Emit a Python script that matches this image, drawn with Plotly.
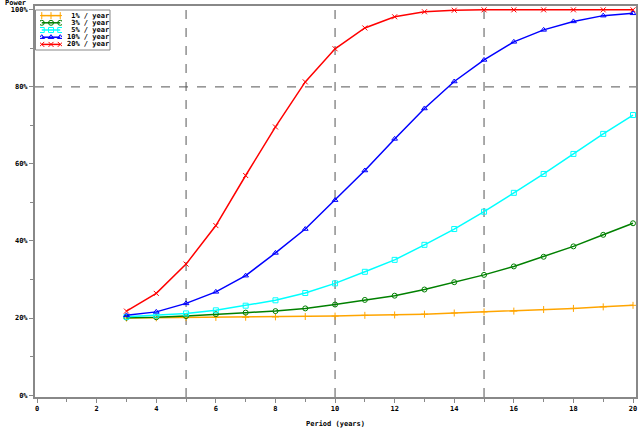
import plotly.graph_objects as go

period = list(range(3, 21))
p1 = [20.0, 20.05, 20.1, 20.15, 20.2, 20.3, 20.4, 20.5, 20.7, 20.8, 21.0, 21.3, 21.6, 21.8, 22.2, 22.5, 22.9, 23.3]
p3 = [20.1, 20.2, 20.5, 21.0, 21.4, 21.8, 22.5, 23.5, 24.7, 25.8, 27.4, 29.3, 31.2, 33.4, 35.9, 38.6, 41.6, 44.6]
p5 = [20.3, 20.7, 21.2, 22.0, 23.2, 24.6, 26.5, 29.0, 32.0, 35.1, 39.0, 43.1, 47.6, 52.5, 57.4, 62.6, 67.8, 72.7]
p10 = [20.7, 21.6, 23.8, 26.8, 31.0, 36.9, 43.1, 50.6, 58.3, 66.5, 74.4, 81.4, 87.0, 91.7, 94.8, 97.0, 98.5, 99.1]
p20 = [21.8, 26.4, 34.0, 44.0, 57.0, 69.6, 81.3, 89.9, 95.3, 98.2, 99.5, 99.9, 100, 100, 100, 100, 100, 100]

series_names = ["\u00a01% / year", "\u00a03% / year", "\u00a05% / year", "10% / year", "20% / year"]
series_vals = [p1, p3, p5, p10, p20]
colors = ["#FFA500", "#008000", "#00FFFF", "#0000FF", "#FF0000"]
symbols = ["cross-thin", "circle-open", "square-open", "triangle-up-open", "x-thin"]

x_ref_lines = [5, 10, 15]
y_ref_lines = [80]
x_ticks = list(range(0, 21, 2))
y_ticks = [0, 20, 40, 60, 80, 100]
y_tick_text = ["0%", "20%", "40%", "60%", "80%", "100%"]
legend_sample_x = [0.08, 0.5, 0.92]

FONT = "DejaVu Sans Mono"
FS = 7
W, H = 640, 428
ML, MR, MT, MB = 35, 4, 6, 31
PW, PH = W - ML - MR, H - MT - MB


def px_x(p):
    return (p - ML) / PW


def px_y(p):
    return (H - MB - p) / PH


fig = go.Figure()
for name, vals, c, s in zip(series_names, series_vals, colors, symbols):
    fig.add_trace(go.Scatter(
        x=period, y=vals, name=name, mode="lines+markers", showlegend=False,
        line=dict(color=c, width=1.5),
        marker=dict(symbol=s, size=5, color=c, line=dict(color=c, width=1)),
    ))

# custom compact legend (samples on an inset axis)
annotations = []
for i, (name, c, s) in enumerate(zip(series_names, colors, symbols)):
    fig.add_trace(go.Scatter(
        x=legend_sample_x, y=[i] * len(legend_sample_x), mode="lines+markers",
        showlegend=False, hoverinfo="skip", xaxis="x2", yaxis="y2",
        line=dict(color=c, width=1.5),
        marker=dict(symbol=s, size=5, color=c, line=dict(color=c, width=1)),
    ))
    annotations.append(dict(text=name, xref="paper", yref="y2", x=px_x(65), y=i,
                            xanchor="left", yanchor="middle", showarrow=False,
                            font=dict(family=FONT, size=FS, weight="bold")))

for xv in x_ref_lines:
    fig.add_shape(type="line", xref="x", yref="paper", x0=xv, x1=xv, y0=0, y1=1,
                  line=dict(color="#555555", width=1, dash="dash"), layer="below")
for yv in y_ref_lines:
    fig.add_shape(type="line", xref="paper", yref="y", x0=0, x1=1, y0=yv, y1=yv,
                  line=dict(color="#555555", width=1, dash="dash"), layer="below")

fig.add_shape(type="rect", xref="paper", yref="paper", x0=px_x(35.5), x1=px_x(110),
              y0=px_y(50), y1=px_y(10), line=dict(color="#888888", width=1),
              fillcolor="white", layer="below")

annotations.append(dict(text="Power", xref="paper", yref="paper", x=0, y=1, xanchor="right",
                        yanchor="middle", xshift=-7, yshift=3, showarrow=False,
                        font=dict(family=FONT, size=FS, weight="bold")))

fig.update_layout(
    width=W, height=H,
    margin=dict(l=ML, r=MR, t=MT, b=MB),
    paper_bgcolor="white", plot_bgcolor="white",
    font=dict(family=FONT, size=FS, color="black", weight="bold"),
    showlegend=False,
    xaxis=dict(range=[-0.07, 20.1], tickvals=x_ticks, showgrid=False, zeroline=False,
               showline=True, linecolor="#888888", linewidth=2, mirror=True,
               automargin=False,
               ticks="outside", ticklen=4, tickcolor="#888888",
               minor=dict(dtick=1, ticks="outside", ticklen=3, tickcolor="#888888"),
               tickfont=dict(family=FONT, size=FS, weight="bold"),
               title=dict(text="Period (years)", standoff=11,
                          font=dict(family=FONT, size=FS, weight="bold"))),
    yaxis=dict(range=[-0.5, 101], tickvals=y_ticks, ticktext=y_tick_text, showgrid=False,
               zeroline=False, automargin=False,
               showline=True, linecolor="#888888", linewidth=2, mirror=True,
               ticks="outside", ticklen=4, tickcolor="#888888",
               minor=dict(dtick=10, ticks="outside", ticklen=3, tickcolor="#888888"),
               tickfont=dict(family=FONT, size=FS, weight="bold")),
    xaxis2=dict(domain=[px_x(40), px_x(62)], range=[0, 1], anchor="y2", visible=False,
                fixedrange=True),
    yaxis2=dict(domain=[px_y(48), px_y(12)], range=[4.5, -0.5], anchor="x2", visible=False,
                fixedrange=True),
    annotations=annotations,
)

fig.write_html("out.html")
